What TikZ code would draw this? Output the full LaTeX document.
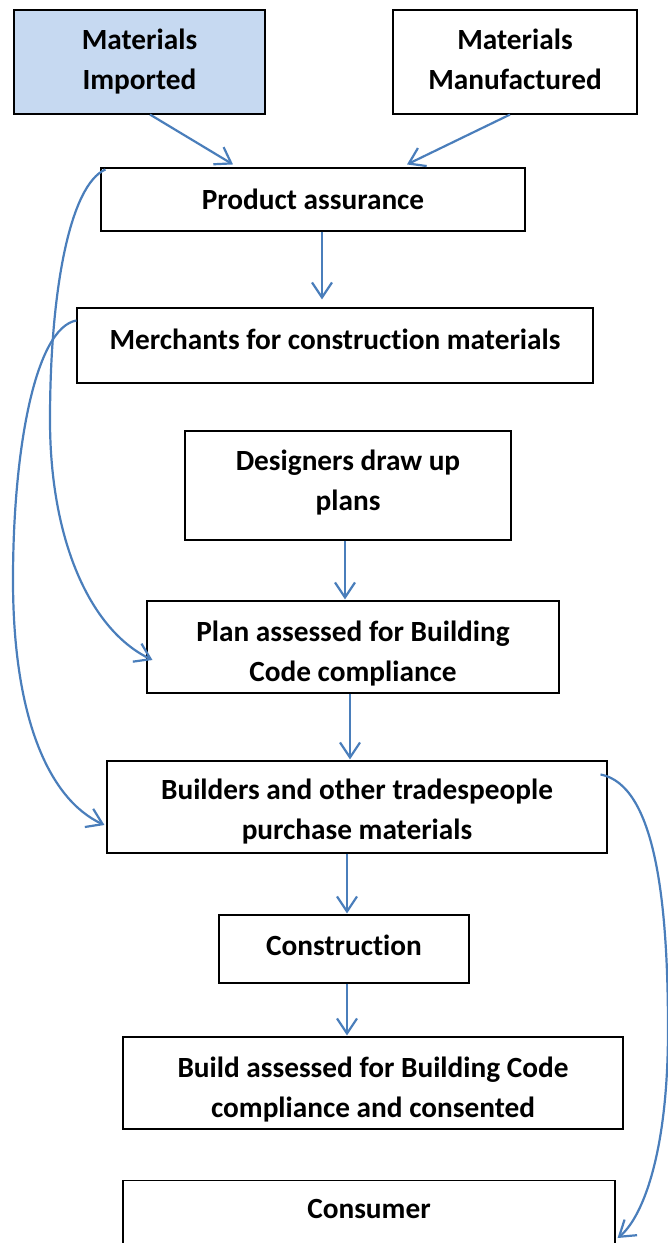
\documentclass[tikz,border=0pt]{standalone}
\usepackage{fontspec}
\setmainfont[Ligatures=NoCommon]{Carlito}
\usetikzlibrary{arrows.meta,calc}
\definecolor{flowblue}{RGB}{74,126,187}
\definecolor{importfill}{RGB}{198,217,241}

\begin{document}
\begin{tikzpicture}[x=1pt,y=-1pt,
  stepbox/.style={draw=black, line width=1.1pt, fill=white, inner sep=0pt},
  boxtext/.style={inner sep=0pt, align=center, font=\fontsize{29.3}{40}\selectfont\bfseries},
  flow/.style={draw=flowblue, line width=2.2pt,
    -{Straight Barb[length=15pt,width=20pt]}},
]
\useasboundingbox (0,0) rectangle (668,1243);

% boxes
\node[stepbox, fill=importfill, minimum width=251pt, minimum height=104pt]
  (imp) at (139.5,62) {};
\node[stepbox, minimum width=244pt, minimum height=104pt] (man) at (515,62) {};
\node[stepbox, minimum width=424pt, minimum height=63pt] (pa) at (313,199.5) {};
\node[stepbox, minimum width=516pt, minimum height=75pt] (mer) at (335,345.5) {};
\node[stepbox, minimum width=326pt, minimum height=109pt] (des) at (348,485.5) {};
\node[stepbox, minimum width=412pt, minimum height=92pt] (plan) at (353,647) {};
\node[stepbox, minimum width=500pt, minimum height=92pt] (bld) at (357,807) {};
\node[stepbox, minimum width=250pt, minimum height=68pt] (con) at (344,949) {};
\node[stepbox, minimum width=500pt, minimum height=92pt] (bas) at (373,1083) {};
\node[stepbox, minimum width=492pt, minimum height=100pt, anchor=north]
  (cons) at (369,1180) {};

% box texts
\node[boxtext] (impl)  at ($(imp.center)+(0,0)$)   {Materials\\Imported};
\node[boxtext] (manl)  at ($(man.center)+(0,-3)$)  {Materials\\Manufactured};
\node[boxtext] (pal)   at ($(pa.center)+(0,0)$)    {Product assurance};
\node[boxtext] (merl)  at ($(mer.center)+(0,-6)$)  {Merchants for construction materials};
\node[boxtext] (desl)  at ($(des.center)+(0,-3)$)  {Designers draw up\\plans};
\node[boxtext] (planl) at ($(plan.center)+(0,7)$)  {Plan assessed for Building\\Code compliance};
\node[boxtext] (bldl)  at ($(bld.center)+(0,5)$)   {Builders and other tradespeople\\purchase materials};
\node[boxtext] (conl)  at ($(con.center)+(0,-4)$)  {Construction};
\node[boxtext] (basl)  at ($(bas.center)+(0,7)$)   {Build assessed for Building Code\\compliance and consented};
\node[boxtext] (consl) at (369,1209) {Consumer};

% straight connectors
\draw[flow] ($(imp.south)+(10.5,0)$) -- ($(pa.north)+(-80,-3)$);
\draw[flow] ($(man.south)+(-5,0)$) -- ($(pa.north)+(94,-3)$);
\draw[flow] ($(pa.south)+(9,0)$) -- ($(mer.north)+(-13,-8)$);
\draw[flow] ($(des.south)+(-3,0)$) -- ($(plan.north)+(-8,-1)$);
\draw[flow] ($(plan.south)+(-3,0)$) -- ($(bld.north)+(-7,-1)$);
\draw[flow] ($(bld.south)+(-10,0)$) -- ($(con.north)+(3,-1)$);
\draw[flow] ($(con.south)+(3,0)$) -- ($(bas.north)+(-26,-1)$);

% curved connectors
\coordinate (aStart) at ($(pa.north west)+(5,2)$);
\coordinate (aEnd) at ($(plan.west)+(6,13)$);
\draw[flow] (aStart) .. controls (70,185) and (50,290) .. (50,420)
  .. controls (50,540) and (90,630) .. (aEnd);

\coordinate (bStart) at ($(mer.north west)+(0,13)$);
\coordinate (bEnd) at ($(bld.west)+(-2,18)$);
\draw[flow] (bStart) .. controls (35,328) and (13,450) .. (13,580)
  .. controls (13,720) and (50,800) .. (bEnd);

\coordinate (cStart) at ($(bld.north east)+(-7,14)$);
\coordinate (cEnd) at ($(cons.north east)+(2,58)$);
\draw[flow] (cStart) .. controls (655,785) and (668,900) .. (668,1030)
  .. controls (668,1160) and (640,1220) .. (cEnd);
\end{tikzpicture}
\end{document}
